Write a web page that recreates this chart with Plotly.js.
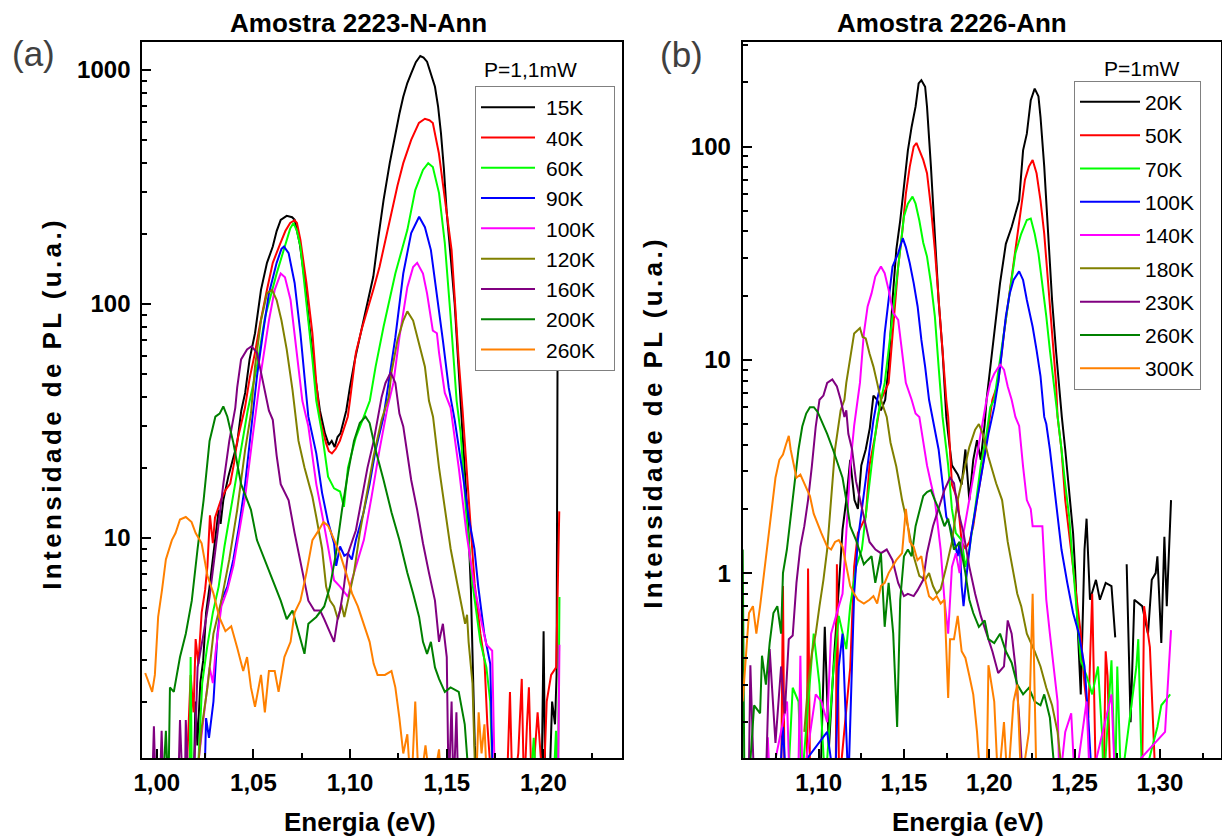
<!DOCTYPE html>
<html><head><meta charset="utf-8">
<script src="https://cdn.plot.ly/plotly-3.0.1.min.js"></script>
<style>
html,body{margin:0;padding:0;background:#fff;}
#chart{width:1222px;height:838px;}
.annotation[data-index="8"] text,.annotation[data-index="9"] text{letter-spacing:3.4px;}
.legend g.legendlines path{d:path("M5,0h54");}
.legend rect.bg{width:139px;}
</style></head><body><div id="chart"></div><script>
// ---------- Panel (a): Amostra 2223-N-Ann, P=1,1mW  [energy eV, PL intensity] ----------
const A15 = [[1.0190,0.8],[1.0200,2.0],[1.0210,1.3],[1.0225,2.4],[1.0240,3.0],[1.0255,4.8],[1.0273,6.2],[1.0290,8.3],[1.0303,9.8],[1.0320,13.2],[1.0330,11.5],[1.0344,14.5],[1.0370,18.3],[1.0395,21.6],[1.0416,25.5],[1.0437,35],[1.0457,41.7],[1.0480,58],[1.0508,75],[1.0539,115],[1.0570,150],[1.0600,176],[1.0620,205],[1.0641,229],[1.0672,238],[1.0700,235],[1.0713,229],[1.0740,180],[1.0766,125],[1.0790,80],[1.0818,50],[1.0844,35],[1.0870,28],[1.0890,25],[1.0905,26],[1.0920,24.5],[1.0935,27],[1.0950,28],[1.0965,31],[1.0980,35],[1.0999,44],[1.1025,58],[1.1050,72],[1.1070,85],[1.1095,105],[1.1120,131],[1.1145,190],[1.1173,278],[1.1205,400],[1.1234,537],[1.1255,650],[1.1275,769],[1.1296,880],[1.1316,968],[1.1340,1080],[1.1363,1148],[1.1380,1130],[1.1398,1085],[1.1420,960],[1.1439,848],[1.1455,700],[1.1470,537],[1.1485,380],[1.1500,245],[1.1520,160],[1.1541,100],[1.1560,55],[1.1582,28],[1.1600,16],[1.1613,10.5],[1.1625,6],[1.1633,3.3],[1.1645,1.3],[1.1660,0.8],[1.1990,0.8],[1.2001,4.0],[1.2010,0.8],[1.2030,0.8],[1.2045,2.0],[1.2060,1.6],[1.2068,2.6],[1.2073,55]];
const A40 = [[1.0150,0.8],[1.0175,2.6],[1.0190,1.8],[1.0201,3.7],[1.0215,2.9],[1.0232,4.8],[1.0250,6.0],[1.0262,7.6],[1.0275,12.5],[1.0290,9.5],[1.0301,12.2],[1.0331,14.5],[1.0355,16],[1.0380,17.1],[1.0400,21],[1.0416,26],[1.0456,36],[1.0480,48],[1.0508,62],[1.0534,82],[1.0570,115],[1.0600,150],[1.0637,180],[1.0665,205],[1.0690,222],[1.0713,228],[1.0725,222],[1.0743,188],[1.0774,123],[1.0805,75],[1.0825,46],[1.0845,32],[1.0875,25.5],[1.0890,23.5],[1.0906,23],[1.0925,24],[1.0947,26],[1.0970,30],[1.0988,33],[1.0999,38.6],[1.1030,62],[1.1060,78],[1.1090,94],[1.1120,115],[1.1152,144],[1.1180,185],[1.1213,245],[1.1245,320],[1.1275,400],[1.1316,503],[1.1356,594],[1.1387,619],[1.1410,610],[1.1428,594],[1.1459,442],[1.1490,278],[1.1510,201],[1.1525,170],[1.1545,95],[1.1560,60],[1.1582,35],[1.1613,14.5],[1.1644,6.4],[1.1674,3.9],[1.1695,3.0],[1.1710,1.6],[1.1735,0.8],[1.1810,0.8],[1.1827,2.2],[1.1840,0.8],[1.1870,1.2],[1.1888,2.5],[1.1900,0.8],[1.1915,1.6],[1.1925,2.3],[1.1940,0.8],[1.1970,1.8],[1.2000,0.8],[1.2017,2.0],[1.2040,2.6],[1.2066,2.8],[1.2082,13]];
const A60 = [[1.0170,0.8],[1.0175,3.1],[1.0182,0.8],[1.0210,0.9],[1.0235,2.4],[1.0260,3.4],[1.0290,4.8],[1.0320,6.2],[1.0350,9.2],[1.0380,12.9],[1.0410,18.3],[1.0440,26],[1.0470,35],[1.0518,54],[1.0560,88],[1.0620,135],[1.0661,176],[1.0690,210],[1.0707,222],[1.0725,205],[1.0743,176],[1.0774,104],[1.0805,58],[1.0825,38.6],[1.0855,28],[1.0886,18.3],[1.0917,16.3],[1.0948,15.8],[1.0968,13.6],[1.0989,20],[1.1030,27],[1.1071,33],[1.1102,38.6],[1.1132,54],[1.1173,80],[1.1234,135],[1.1296,207],[1.1337,307],[1.1377,374],[1.1404,400],[1.1428,385],[1.1460,298],[1.1490,182],[1.1520,88],[1.1551,38.6],[1.1572,28],[1.1602,12.3],[1.1633,6.4],[1.1674,3.6],[1.1705,2.8],[1.1725,2.0],[1.1740,0.8],[1.1930,0.8],[1.1950,1.4],[1.1965,0.8],[1.2050,0.8],[1.2065,1.5],[1.2075,0.8],[1.2083,5.6]];
const A90 = [[1.0180,0.8],[1.0245,0.8],[1.0255,1.7],[1.0270,1.4],[1.0293,2.0],[1.0314,3.9],[1.0334,5.4],[1.0365,6.2],[1.0396,8.1],[1.0426,11.3],[1.0457,17],[1.0487,28],[1.0518,49],[1.0549,75],[1.0580,111],[1.0620,150],[1.0645,172],[1.0658,176],[1.0682,165],[1.0713,123],[1.0743,75],[1.0764,49],[1.0784,33],[1.0825,23],[1.0855,15.6],[1.0886,11.7],[1.0917,9.5],[1.0928,7.6],[1.0948,9.2],[1.0970,8.4],[1.0989,8.6],[1.1009,8.1],[1.1030,9.8],[1.1070,12.9],[1.1101,17],[1.1132,23.8],[1.1173,33],[1.1204,49],[1.1234,72],[1.1275,135],[1.1316,201],[1.1357,236],[1.1387,213],[1.1418,170],[1.1449,111],[1.1480,70],[1.1510,44],[1.1541,32],[1.1582,19],[1.1613,12.3],[1.1643,9.0],[1.1663,6.2],[1.1694,3.9],[1.1725,2.9],[1.1740,0.8]];
const A100 = [[1.0195,0.8],[1.0242,1.7],[1.0273,2.8],[1.0290,2.4],[1.0303,3.2],[1.0334,5.1],[1.0365,6.0],[1.0396,7.6],[1.0426,10.5],[1.0457,15],[1.0498,28],[1.0539,51],[1.0580,85],[1.0610,115],[1.0641,135],[1.0663,130],[1.0692,104],[1.0723,64],[1.0753,38.6],[1.0784,30],[1.0825,17],[1.0866,11.3],[1.0896,8.1],[1.0917,6.6],[1.0948,6.2],[1.0970,5.9],[1.0989,5.6],[1.1009,6.6],[1.1040,8.1],[1.1071,9.8],[1.1111,15],[1.1152,23.8],[1.1193,36],[1.1224,46],[1.1255,72],[1.1296,118],[1.1326,144],[1.1347,150],[1.1377,135],[1.1398,111],[1.1428,77],[1.1449,75],[1.1460,62],[1.1490,41.7],[1.1520,36],[1.1562,20],[1.1602,10.5],[1.1643,6.2],[1.1674,4.6],[1.1705,3.5],[1.1735,3.3],[1.1750,0.8],[1.2075,0.8],[1.2083,3.5]];
const A120 = [[1.0200,0.8],[1.0232,1.54],[1.0262,2.3],[1.0293,3.9],[1.0334,5.4],[1.0375,8.1],[1.0416,13.2],[1.0457,23.8],[1.0487,34],[1.0508,54],[1.0539,85],[1.0570,111],[1.0596,115],[1.0620,104],[1.0645,85],[1.0672,64],[1.0702,43],[1.0733,26],[1.0764,20],[1.0805,15],[1.0825,12.3],[1.0855,9.0],[1.0876,6.2],[1.0896,5.4],[1.0917,5.1],[1.0937,4.5],[1.0955,5.2],[1.0970,4.6],[1.0989,5.4],[1.1020,7.1],[1.1050,10.5],[1.1080,14.5],[1.1122,22.5],[1.1163,32],[1.1200,40],[1.1214,51],[1.1245,70],[1.1275,85],[1.1296,93],[1.1326,85],[1.1357,68],[1.1387,54],[1.1408,38.6],[1.1429,33],[1.1460,20],[1.1490,13.6],[1.1520,9.0],[1.1551,6.6],[1.1582,4.8],[1.1595,4.3],[1.1605,4.7],[1.1613,3.6],[1.1633,2.4],[1.1650,0.8]];
const A160 = [[0.9975,0.8],[0.9985,1.57],[0.9995,0.8],[1.0015,0.8],[1.0025,1.5],[1.0035,0.8],[1.0110,0.8],[1.0120,1.67],[1.0135,0.8],[1.0145,0.8],[1.0150,1.67],[1.0165,0.8],[1.0190,0.8],[1.0211,2.8],[1.0242,3.9],[1.0273,5.6],[1.0314,10.5],[1.0344,17],[1.0375,26],[1.0406,36],[1.0416,44],[1.0436,58],[1.0467,64],[1.0490,66],[1.0518,62],[1.0549,47],[1.0580,35],[1.0600,32],[1.0620,22.5],[1.0641,17],[1.0682,14.5],[1.0713,10.5],[1.0753,7.1],[1.0784,5.4],[1.0815,4.9],[1.0845,4.9],[1.0866,4.5],[1.0886,4.1],[1.0917,3.6],[1.0935,4.5],[1.0948,4.9],[1.0968,6.2],[1.0989,8.6],[1.1030,10.8],[1.1060,14.5],[1.1090,20],[1.1122,26],[1.1152,35],[1.1163,40],[1.1183,46],[1.1210,51],[1.1234,46],[1.1255,34],[1.1275,30],[1.1316,17.7],[1.1347,13.2],[1.1377,9.5],[1.1408,7.1],[1.1439,5.4],[1.1460,3.6],[1.1480,4.3],[1.1500,3.1],[1.1510,0.8],[1.1525,2.0],[1.1535,0.8],[1.1550,1.8],[1.1560,0.8]];
const A200 = [[1.0030,0.8],[1.0047,1.5],[1.0060,0.8],[1.0068,2.3],[1.0088,2.2],[1.0120,3.1],[1.0150,3.9],[1.0181,5.4],[1.0211,9.0],[1.0242,14.5],[1.0273,26],[1.0303,33],[1.0325,34],[1.0344,36.5],[1.0365,33],[1.0396,25.5],[1.0436,17],[1.0487,13.2],[1.0518,9.8],[1.0559,8.1],[1.0600,6.6],[1.0641,5.4],[1.0672,4.5],[1.0702,4.9],[1.0733,4.0],[1.0764,3.2],[1.0784,4.3],[1.0825,4.6],[1.0866,5.1],[1.0896,6.2],[1.0927,8.6],[1.0958,13.2],[1.0989,19],[1.1020,26],[1.1050,31],[1.1080,33],[1.1101,31],[1.1132,23.8],[1.1173,17.7],[1.1214,12.9],[1.1255,9.8],[1.1296,7.1],[1.1326,5.8],[1.1357,4.6],[1.1377,3.6],[1.1398,3.2],[1.1418,3.6],[1.1439,2.8],[1.1460,2.5],[1.1490,2.2],[1.1520,2.3],[1.1562,2.2],[1.1593,1.6],[1.1620,0.8]];
const A260 = [[0.9940,2.65],[0.9960,2.4],[0.9976,2.2],[0.9990,2.6],[1.0007,4.6],[1.0027,6.0],[1.0047,8.1],[1.0078,9.8],[1.0097,10.5],[1.0120,12],[1.0150,12.3],[1.0180,11.7],[1.0201,10.5],[1.0232,9.5],[1.0262,6.9],[1.0293,5.8],[1.0323,4.6],[1.0355,4.0],[1.0385,4.2],[1.0416,3.4],[1.0447,2.7],[1.0467,3.1],[1.0487,2.3],[1.0508,1.9],[1.0539,2.6],[1.0559,1.8],[1.0580,2.7],[1.0610,2.7],[1.0630,2.2],[1.0660,3.1],[1.0692,3.6],[1.0713,4.8],[1.0743,5.4],[1.0774,7.1],[1.0805,9.8],[1.0835,10.7],[1.0862,11.7],[1.0886,11.3],[1.0917,9.8],[1.0947,8.6],[1.0979,7.1],[1.1010,5.8],[1.1040,5.1],[1.1070,4.3],[1.1101,3.6],[1.1122,2.9],[1.1142,2.6],[1.1180,2.6],[1.1214,2.7],[1.1234,2.3],[1.1255,1.7],[1.1275,1.2],[1.1296,1.45],[1.1316,0.8],[1.1337,2.0],[1.1357,0.8],[1.1390,1.3],[1.1420,0.8],[1.1460,1.25],[1.1475,0.8],[1.1650,0.8],[1.1665,1.8],[1.1680,1.2],[1.1695,1.6],[1.1710,0.8]];

// ---------- Panel (b): Amostra 2226-Ann, P=1mW  [energy eV, PL intensity] ----------
const B20 = [[1.1010,0.1],[1.1036,0.56],[1.1060,0.15],[1.1090,0.4],[1.1120,0.9],[1.1140,1.6],[1.1162,2.2],[1.1185,3.4],[1.1210,2.2],[1.1230,2.0],[1.1250,3.2],[1.1276,3.8],[1.1300,4.8],[1.1321,6.8],[1.1343,6.5],[1.1365,5.8],[1.1390,6.5],[1.1410,9.3],[1.1433,19.1],[1.1455,32.8],[1.1478,45],[1.1500,67],[1.1523,96],[1.1545,124],[1.1568,154],[1.1586,198],[1.1602,205],[1.1624,191],[1.1635,154],[1.1658,80.6],[1.1681,39],[1.1703,19],[1.1726,11],[1.1748,5.4],[1.1759,4.5],[1.1781,3.2],[1.1815,2.9],[1.1838,2.6],[1.1860,3.8],[1.1883,2.2],[1.1906,3.4],[1.1928,4.2],[1.1950,3.4],[1.1973,5.0],[1.1984,6.5],[1.1995,7.8],[1.2029,13.3],[1.2063,22.9],[1.2097,35],[1.2131,42],[1.2175,56],[1.2198,96],[1.2220,115],[1.2243,165],[1.2266,187],[1.2288,172],[1.2300,138],[1.2322,80.6],[1.2345,39],[1.2368,19],[1.2391,11],[1.2413,6.5],[1.2425,5.4],[1.2445,3.8],[1.2468,2.4],[1.2491,1.54],[1.2502,1.07],[1.2513,0.72],[1.2536,0.27],[1.2558,1.29],[1.2570,1.8],[1.2590,0.75],[1.2625,0.93],[1.2648,0.75],[1.2682,0.9],[1.2716,0.87],[1.2738,0.5],[1.2750,null],[1.2805,1.1],[1.2828,0.2],[1.2850,0.75],[1.2896,0.7],[1.2930,0.52],[1.2952,0.93],[1.2975,1.0],[1.2985,1.2],[1.3008,0.47],[1.3026,1.48],[1.3040,0.7],[1.3065,2.2]];
const B50 = [[1.0780,0.1],[1.0791,0.87],[1.0800,0.1],[1.0930,0.1],[1.0938,1.05],[1.0950,0.1],[1.1100,0.1],[1.1107,1.1],[1.1120,0.1],[1.1185,0.36],[1.1208,1.07],[1.1230,1.54],[1.1276,1.84],[1.1298,3.2],[1.1333,4.5],[1.1365,6.5],[1.1410,7.8],[1.1444,16],[1.1466,27.4],[1.1489,39],[1.1511,60],[1.1534,80.6],[1.1557,100],[1.1573,104],[1.1590,96],[1.1613,86.6],[1.1635,75],[1.1658,52],[1.1681,32.8],[1.1703,19],[1.1726,11],[1.1748,6.5],[1.1759,5.4],[1.1781,2.6],[1.1815,2.2],[1.1838,1.4],[1.1860,1.3],[1.1883,1.4],[1.1906,1.66],[1.1928,2.2],[1.1962,3.2],[1.1995,4.9],[1.2018,6.5],[1.2052,7.8],[1.2086,13.3],[1.2120,21],[1.2153,32.8],[1.2187,52],[1.2209,70],[1.2232,80.6],[1.2254,86.6],[1.2277,75],[1.2300,56],[1.2322,39],[1.2345,22.9],[1.2368,13.3],[1.2391,7.8],[1.2400,5.4],[1.2423,3.8],[1.2445,2.2],[1.2468,1.54],[1.2491,1.07],[1.2513,0.75],[1.2536,0.52],[1.2558,0.3],[1.2580,0.21],[1.2603,0.8],[1.2625,0.1],[1.2670,0.1],[1.2682,0.43],[1.2693,0.33],[1.2710,0.1],[1.2895,0.1],[1.2907,0.7],[1.2941,0.45],[1.2975,0.1]];
const B70 = [[1.0820,0.1],[1.0848,0.29],[1.0882,0.25],[1.0900,0.1],[1.0971,0.52],[1.1005,0.3],[1.1039,0.1],[1.1085,0.34],[1.1118,0.63],[1.1162,0.44],[1.1185,0.7],[1.1219,1.07],[1.1253,1.29],[1.1276,1.8],[1.1298,2.64],[1.1321,3.8],[1.1343,5.2],[1.1365,6.5],[1.1387,7.8],[1.1410,11.1],[1.1433,16],[1.1455,22.9],[1.1478,32.8],[1.1500,47],[1.1523,54],[1.1550,58.3],[1.1568,54],[1.1590,45],[1.1613,35.4],[1.1635,30.5],[1.1658,22.9],[1.1681,16],[1.1703,9.3],[1.1726,5.4],[1.1759,3.2],[1.1781,2.0],[1.1804,1.54],[1.1838,1.43],[1.1860,1.07],[1.1883,1.29],[1.1917,2.0],[1.1950,3.2],[1.1984,4.5],[1.2006,6.0],[1.2029,6.5],[1.2063,10],[1.2086,13.3],[1.2120,20.5],[1.2153,31.6],[1.2187,39],[1.2220,45.3],[1.2243,46],[1.2266,39],[1.2288,31.6],[1.2311,22.9],[1.2334,16],[1.2355,11.1],[1.2378,7.8],[1.2400,5.4],[1.2423,3.8],[1.2445,2.6],[1.2468,1.84],[1.2491,1.07],[1.2513,0.63],[1.2536,0.39],[1.2570,0.33],[1.2603,0.27],[1.2637,0.365],[1.2660,0.18],[1.2671,0.1],[1.2716,0.39],[1.2738,0.1],[1.2750,0.365],[1.2772,0.1],[1.2862,0.365],[1.2873,0.49],[1.2896,0.1],[1.2985,0.19],[1.3008,0.24],[1.3060,0.27]];
const B100 = [[1.0770,0.1],[1.0791,0.19],[1.0810,0.1],[1.1050,0.18],[1.1080,0.12],[1.1096,0.1],[1.1118,0.365],[1.1140,0.52],[1.1174,0.1],[1.1208,0.8],[1.1230,1.43],[1.1253,2.0],[1.1276,2.64],[1.1298,3.8],[1.1321,5.2],[1.1343,6.5],[1.1365,7.8],[1.1387,13.3],[1.1410,19.1],[1.1433,27.4],[1.1466,31.6],[1.1493,37.2],[1.1511,33.8],[1.1534,28.4],[1.1557,22.9],[1.1580,17.8],[1.1602,12.4],[1.1624,9.3],[1.1647,6.5],[1.1665,5.4],[1.1681,4.6],[1.1703,3.8],[1.1726,2.64],[1.1748,1.84],[1.1770,1.66],[1.1793,1.43],[1.1815,1.2],[1.1826,1.4],[1.1838,0.87],[1.1849,0.7],[1.1872,1.07],[1.1895,1.54],[1.1928,2.2],[1.1962,3.2],[1.1995,4.5],[1.2029,6.0],[1.2052,7.8],[1.2075,11.1],[1.2097,16],[1.2120,20.5],[1.2142,23.7],[1.2175,26],[1.2198,23.7],[1.2220,19.1],[1.2254,14.3],[1.2277,11.1],[1.2300,8.4],[1.2322,5.4],[1.2334,5.0],[1.2355,3.8],[1.2378,2.64],[1.2400,1.84],[1.2423,1.29],[1.2457,0.9],[1.2491,0.65],[1.2525,0.52],[1.2558,0.365],[1.2580,0.21],[1.2603,0.1]];
const B140 = [[1.0690,0.1],[1.0702,0.17],[1.0715,0.1],[1.0815,0.25],[1.0830,0.1],[1.0880,0.1],[1.0893,0.41],[1.0905,0.1],[1.0983,0.27],[1.1016,0.25],[1.1050,0.2],[1.1073,0.52],[1.1118,0.7],[1.1140,0.8],[1.1162,1.54],[1.1185,3.16],[1.1208,4.9],[1.1230,6.5],[1.1242,7.8],[1.1265,13.3],[1.1287,17.8],[1.1310,20.5],[1.1332,24.6],[1.1365,27.4],[1.1387,25.5],[1.1410,21.3],[1.1437,16.6],[1.1466,15.4],[1.1489,11.1],[1.1511,7.8],[1.1545,6.5],[1.1568,5.6],[1.1590,5.4],[1.1613,4.1],[1.1635,3.2],[1.1658,2.64],[1.1681,2.2],[1.1715,1.29],[1.1737,0.75],[1.1759,0.52],[1.1781,1.07],[1.1804,1.24],[1.1826,1.0],[1.1849,1.54],[1.1883,2.2],[1.1917,3.2],[1.1950,4.5],[1.1984,6.5],[1.2006,7.8],[1.2029,8.6],[1.2063,9.5],[1.2086,9.0],[1.2108,7.5],[1.2131,6.5],[1.2153,5.4],[1.2175,4.9],[1.2198,3.16],[1.2220,2.2],[1.2243,2.0],[1.2254,1.66],[1.2311,1.66],[1.2334,0.75],[1.2355,0.52],[1.2378,0.365],[1.2400,0.25],[1.2411,0.1],[1.2445,0.18],[1.2480,0.22],[1.2502,0.1],[1.2570,0.25],[1.2590,0.1],[1.2716,0.27],[1.2738,0.1],[1.3030,0.18],[1.3065,0.54]];
const B180 = [[1.0916,0.18],[1.0938,0.3],[1.0960,0.42],[1.0983,0.52],[1.1005,0.7],[1.1028,0.93],[1.1050,1.29],[1.1073,2.2],[1.1096,3.8],[1.1129,5.8],[1.1151,6.5],[1.1162,7.8],[1.1185,10.4],[1.1208,13.3],[1.1230,13.8],[1.1242,14.1],[1.1258,12.8],[1.1276,12.6],[1.1298,10.7],[1.1321,9.3],[1.1343,7.8],[1.1365,6.5],[1.1399,5.4],[1.1421,4.1],[1.1455,3.16],[1.1489,2.2],[1.1523,1.66],[1.1557,1.2],[1.1590,0.97],[1.1624,0.93],[1.1647,1.0],[1.1670,0.87],[1.1692,0.8],[1.1715,0.84],[1.1748,1.07],[1.1781,1.4],[1.1815,2.2],[1.1849,2.9],[1.1883,3.9],[1.1917,4.7],[1.1939,5.0],[1.1962,4.5],[1.1995,3.5],[1.2040,2.64],[1.2075,2.2],[1.2108,1.4],[1.2142,1.0],[1.2164,0.8],[1.2187,0.7],[1.2220,0.52],[1.2266,0.43],[1.2300,0.365],[1.2334,0.29],[1.2368,0.24],[1.2400,0.18],[1.2434,0.1]];
const B230 = [[1.0590,0.1],[1.0600,0.37],[1.0622,0.1],[1.0690,0.1],[1.0713,0.44],[1.0747,0.16],[1.0780,0.365],[1.0802,0.22],[1.0825,0.49],[1.0848,0.51],[1.0870,0.9],[1.0893,1.33],[1.0916,1.66],[1.0938,2.2],[1.0960,3.16],[1.0983,4.87],[1.1005,6.5],[1.1028,6.8],[1.1050,7.8],[1.1080,8.1],[1.1107,7.5],[1.1129,6.5],[1.1151,5.4],[1.1162,5.8],[1.1174,4.5],[1.1196,3.8],[1.1219,2.7],[1.1242,2.2],[1.1265,1.84],[1.1298,1.4],[1.1333,1.29],[1.1365,1.24],[1.1399,1.29],[1.1433,1.15],[1.1466,0.9],[1.1500,0.78],[1.1523,0.8],[1.1557,0.78],[1.1579,0.83],[1.1613,0.93],[1.1635,1.24],[1.1670,1.66],[1.1703,2.0],[1.1737,2.45],[1.1770,2.8],[1.1793,2.64],[1.1815,2.0],[1.1849,1.54],[1.1883,1.07],[1.1917,0.8],[1.1950,0.63],[1.1984,0.52],[1.2018,0.43],[1.2052,0.34],[1.2086,0.365],[1.2108,0.6],[1.2131,0.52],[1.2153,0.365],[1.2175,0.21],[1.2198,0.1]];
const B260 = [[1.0555,1.29],[1.0565,0.1],[1.0590,0.1],[1.0622,0.24],[1.0657,0.22],[1.0668,0.41],[1.0691,0.3],[1.0713,0.47],[1.0735,0.65],[1.0758,0.7],[1.0780,0.52],[1.0791,1.0],[1.0814,1.29],[1.0836,1.84],[1.0859,2.64],[1.0882,3.8],[1.0904,4.87],[1.0927,5.6],[1.0949,6.0],[1.0972,6.0],[1.0994,5.7],[1.1016,5.2],[1.1050,4.5],[1.1084,3.8],[1.1118,3.16],[1.1140,2.8],[1.1162,2.2],[1.1185,1.66],[1.1219,1.43],[1.1242,1.24],[1.1265,1.1],[1.1287,1.15],[1.1310,1.2],[1.1332,0.9],[1.1365,1.24],[1.1387,0.56],[1.1410,0.9],[1.1437,0.52],[1.1460,0.19],[1.1478,0.75],[1.1500,1.2],[1.1523,1.29],[1.1545,1.2],[1.1568,1.66],[1.1590,1.95],[1.1613,2.3],[1.1635,2.4],[1.1658,2.45],[1.1681,2.2],[1.1703,2.0],[1.1737,1.66],[1.1759,1.8],[1.1793,1.29],[1.1826,1.4],[1.1860,1.0],[1.1883,0.75],[1.1906,0.65],[1.1939,0.56],[1.1973,0.6],[1.1995,0.49],[1.2029,0.47],[1.2063,0.52],[1.2097,0.43],[1.2131,0.38],[1.2164,0.3],[1.2198,0.27],[1.2232,0.29],[1.2266,0.25],[1.2300,0.24],[1.2322,0.27],[1.2355,0.21],[1.2390,0.1]];
const B300 = [[1.0555,0.25],[1.0570,0.365],[1.0592,0.65],[1.0615,0.7],[1.0635,0.52],[1.0657,0.7],[1.0680,1.0],[1.0702,1.43],[1.0725,2.0],[1.0747,2.8],[1.0770,3.4],[1.0791,3.6],[1.0808,4.0],[1.0825,4.4],[1.0836,3.8],[1.0848,3.4],[1.0870,2.8],[1.0893,2.9],[1.0926,2.5],[1.0949,2.3],[1.0971,1.9],[1.0994,1.7],[1.1016,1.54],[1.1050,1.33],[1.1073,1.29],[1.1096,1.4],[1.1118,1.43],[1.1140,1.33],[1.1162,1.07],[1.1185,0.87],[1.1208,0.8],[1.1230,0.75],[1.1265,0.72],[1.1298,0.75],[1.1321,0.78],[1.1343,0.72],[1.1365,0.87],[1.1387,0.9],[1.1410,1.0],[1.1433,1.07],[1.1455,1.15],[1.1489,1.24],[1.1511,2.0],[1.1534,1.4],[1.1557,1.33],[1.1579,1.15],[1.1602,1.2],[1.1624,0.93],[1.1647,0.78],[1.1670,0.75],[1.1692,0.78],[1.1715,0.72],[1.1737,0.75],[1.1759,0.26],[1.1770,0.49],[1.1793,0.49],[1.1815,0.63],[1.1838,0.43],[1.1860,0.4],[1.1883,0.33],[1.1906,0.27],[1.1928,0.18],[1.1950,0.1],[1.1984,0.1],[1.1995,0.37],[1.2029,0.25],[1.2052,0.1],[1.2086,0.2],[1.2108,0.1],[1.2142,0.25],[1.2164,0.3],[1.2187,0.1],[1.2232,0.18],[1.2254,0.8],[1.2277,0.1]];

const labelsA = ['15K','40K','60K','90K','100K','120K','160K','200K','260K'];
const labelsB = ['20K','50K','70K','100K','140K','180K','230K','260K','300K'];
const seriesA = [A15,A40,A60,A90,A100,A120,A160,A200,A260];
const seriesB = [B20,B50,B70,B100,B140,B180,B230,B260,B300];
const colors = ['#000000','#ff0000','#00ff00','#0000ff','#ff00ff','#808000','#800080','#008000','#ff8000'];
// minor (unlabelled) tick positions of the log intensity axes
const minorTicksA = [2,3,4,5,6,7,8,9,20,30,40,50,60,70,80,90,200,300,400,500,600,700,800,900];
const minorTicksB = [0.2,0.3,0.4,0.5,0.6,0.7,0.8,0.9,2,3,4,5,6,7,8,9,20,30,40,50,60,70,80,90,200,300];

const FONT = 'Liberation Sans, Arial, sans-serif';
const W = 1222, H = 838;
const px = v => v / W, py = v => 1 - v / H;

const traces = [];
seriesA.forEach((s, k) => traces.push({
  type: 'scatter', mode: 'lines', name: labelsA[k], legendgroup: 'a' + k,
  x: s.map(p => p[0]), y: s.map(p => p[1]),
  line: {color: colors[k], width: 2}, xaxis: 'x', yaxis: 'y', legend: 'legend', hoverinfo: 'skip'
}));
seriesB.forEach((s, k) => traces.push({
  type: 'scatter', mode: 'lines', name: labelsB[k], legendgroup: 'b' + k,
  x: s.map(p => p[0]), y: s.map(p => p[1]),
  line: {color: colors[k], width: 2}, xaxis: 'x2', yaxis: 'y2', legend: 'legend2', hoverinfo: 'skip'
}));

const tickFont = {family: FONT, size: 24, color: '#000', weight: 'bold'};
const base = {
  showgrid: false, zeroline: false, showline: true, linecolor: '#000', linewidth: 2, mirror: true,
  ticks: 'inside', ticklen: 9, tickwidth: 2, tickcolor: '#000', tickfont: tickFont
};
const xMinor = {ticks: 'inside', ticklen: 5, tickwidth: 2, tickcolor: '#000', dtick: 0.025, tick0: 1};
const yMinorA = {ticks: 'inside', ticklen: 5, tickwidth: 2, tickcolor: '#000', tickmode: 'array', tickvals: minorTicksA};
const yMinorB = {ticks: 'inside', ticklen: 5, tickwidth: 2, tickcolor: '#000', tickmode: 'array', tickvals: minorTicksB};
const yDom = [py(758), py(41.7)];

const legendBase = {
  xanchor: 'left', yanchor: 'top', bgcolor: '#ffffff', bordercolor: '#808080', borderwidth: 1,
  font: {family: FONT, size: 21, color: '#000'}, itemwidth: 60, traceorder: 'grouped'
};

const ann = (text, x, y, size, opts) => Object.assign({
  text: text, x: px(x), y: py(y), xref: 'paper', yref: 'paper', showarrow: false,
  xanchor: 'center', yanchor: 'middle', font: {family: FONT, size: size, color: '#000'}
}, opts || {});
const bold = size => ({family: FONT, size: size, color: '#000', weight: 'bold'});

const layout = {
  width: W, height: H, margin: {l: 0, r: 0, t: 0, b: 0},
  paper_bgcolor: '#fff', plot_bgcolor: '#fff', separators: ',.', showlegend: true,
  xaxis: Object.assign({}, base, {domain: [px(142.3), px(621.7)], range: [0.9925, 1.2405], tick0: 1, dtick: 0.05, tickformat: '.2f', minor: xMinor, anchor: 'y', ticklabelstandoff: 2}),
  yaxis: Object.assign({}, base, {domain: yDom, type: 'log', range: [0.06, 3.121], dtick: 1, minor: yMinorA, anchor: 'x', ticklabelstandoff: 5}),
  xaxis2: Object.assign({}, base, {domain: [px(742.7), px(1220.7)], range: [1.0555, 1.3356], tick0: 1, dtick: 0.05, tickformat: '.2f', minor: xMinor, anchor: 'y2', ticklabelstandoff: 2}),
  yaxis2: Object.assign({}, base, {domain: yDom, type: 'log', range: [-0.867, 2.492], dtick: 1, minor: yMinorB, anchor: 'x2', ticklabelstandoff: 5}),
  legend: Object.assign({}, legendBase, {x: px(475), y: py(86), tracegroupgap: 0}),
  legend2: Object.assign({}, legendBase, {x: px(1074), y: py(80.7), tracegroupgap: 3}),
  annotations: [
    ann('Amostra 2223-N-Ann', 358, 23, 26, {font: bold(26)}),
    ann('Amostra 2226-Ann', 951.5, 23, 26, {font: bold(26)}),
    ann('(a)', 33, 53, 35, {font: {family: FONT, size: 35, color: '#404040'}}),
    ann('(b)', 681, 55, 35, {font: {family: FONT, size: 35, color: '#404040'}}),
    ann('P=1,1mW', 530, 70, 21),
    ann('P=1mW', 1141, 68, 21),
    ann('Energia (eV)', 360, 822, 26, {font: bold(26)}),
    ann('Energia (eV)', 968, 822, 26, {font: bold(26)}),
    ann('Intensidade de PL (u.a.)', 52, 404, 26, {textangle: -90, font: bold(26)}),
    ann('Intensidade de PL (u.a.)', 653, 423, 26, {textangle: -90, font: bold(26)})
  ]
};

Plotly.newPlot('chart', traces, layout, {staticPlot: true, displayModeBar: false});
</script></body></html>
